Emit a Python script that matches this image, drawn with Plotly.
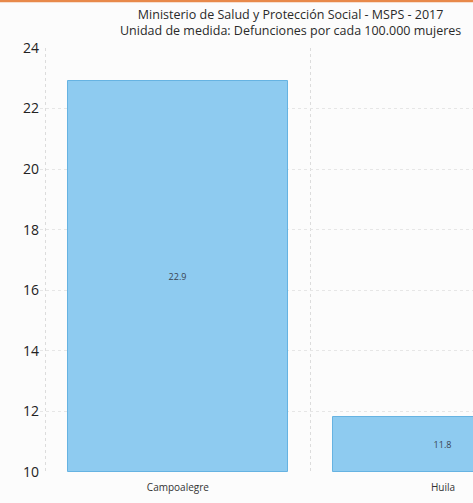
import plotly.graph_objects as go

# Data
municipios = ["Campoalegre", "Huila"]
tasas = [22.9, 11.8]
y_ticks = [10, 12, 14, 16, 18, 20, 22, 24]
titulo_1 = "Ministerio de Salud y Protección Social - MSPS - 2017"
titulo_2 = "Unidad de medida: Defunciones por cada 100.000 mujeres"

x_pos = list(range(len(municipios)))

fig = go.Figure()
fig.add_trace(go.Bar(
    x=x_pos,
    y=[v - 10 for v in tasas],
    base=10,
    width=0.83,
    marker=dict(color="#8ECBF0", line=dict(color="#66B3E2", width=1)),
    text=[f"{v:.1f}" for v in tasas],
    textposition="inside",
    insidetextanchor="middle",
    textfont=dict(family="Open Sans", size=9, color="#3a4450"),
    hoverinfo="skip",
))

fig.update_layout(
    width=473,
    height=503,
    margin=dict(l=40, r=0, t=48, b=31),
    paper_bgcolor="#fcfcfc",
    plot_bgcolor="#fcfcfc",
    showlegend=False,
    bargap=0,
    font=dict(family="Open Sans", color="#222"),
    annotations=[
        dict(
            text=titulo_1 + "<br>" + titulo_2,
            xref="paper", yref="paper",
            x=0.578, y=1.104,
            xanchor="center", yanchor="top",
            showarrow=False,
            align="center",
            font=dict(family="Open Sans", size=12.5, color="#2a2a2a"),
        )
    ],
    shapes=[
        dict(type="rect", xref="paper", yref="paper",
             x0=-0.1, x1=1.0, y0=1.108, y1=1.125,
             fillcolor="#e8894a", line=dict(width=0), layer="below"),
    ],
)

fig.update_xaxes(
    range=[-0.52, 1.113],
    tickmode="array",
    tickvals=x_pos,
    ticktext=municipios,
    tickfont=dict(family="Open Sans", size=10, color="#333"),
    showgrid=False,
    zeroline=False,
    showline=False,
    ticks="",
    ticklabelstandoff=8,
    minor=dict(tick0=-0.5, dtick=1, showgrid=True, gridcolor="#dcdcdc",
               griddash="dot", gridwidth=1),
)

fig.update_yaxes(
    range=[10, 24],
    tickmode="array",
    tickvals=y_ticks,
    tickfont=dict(family="Open Sans", size=14, color="#222"),
    showgrid=True,
    gridcolor="#e6e6e6",
    griddash="dot",
    zeroline=False,
    showline=False,
    ticks="",
)

fig.write_html("out.html")
